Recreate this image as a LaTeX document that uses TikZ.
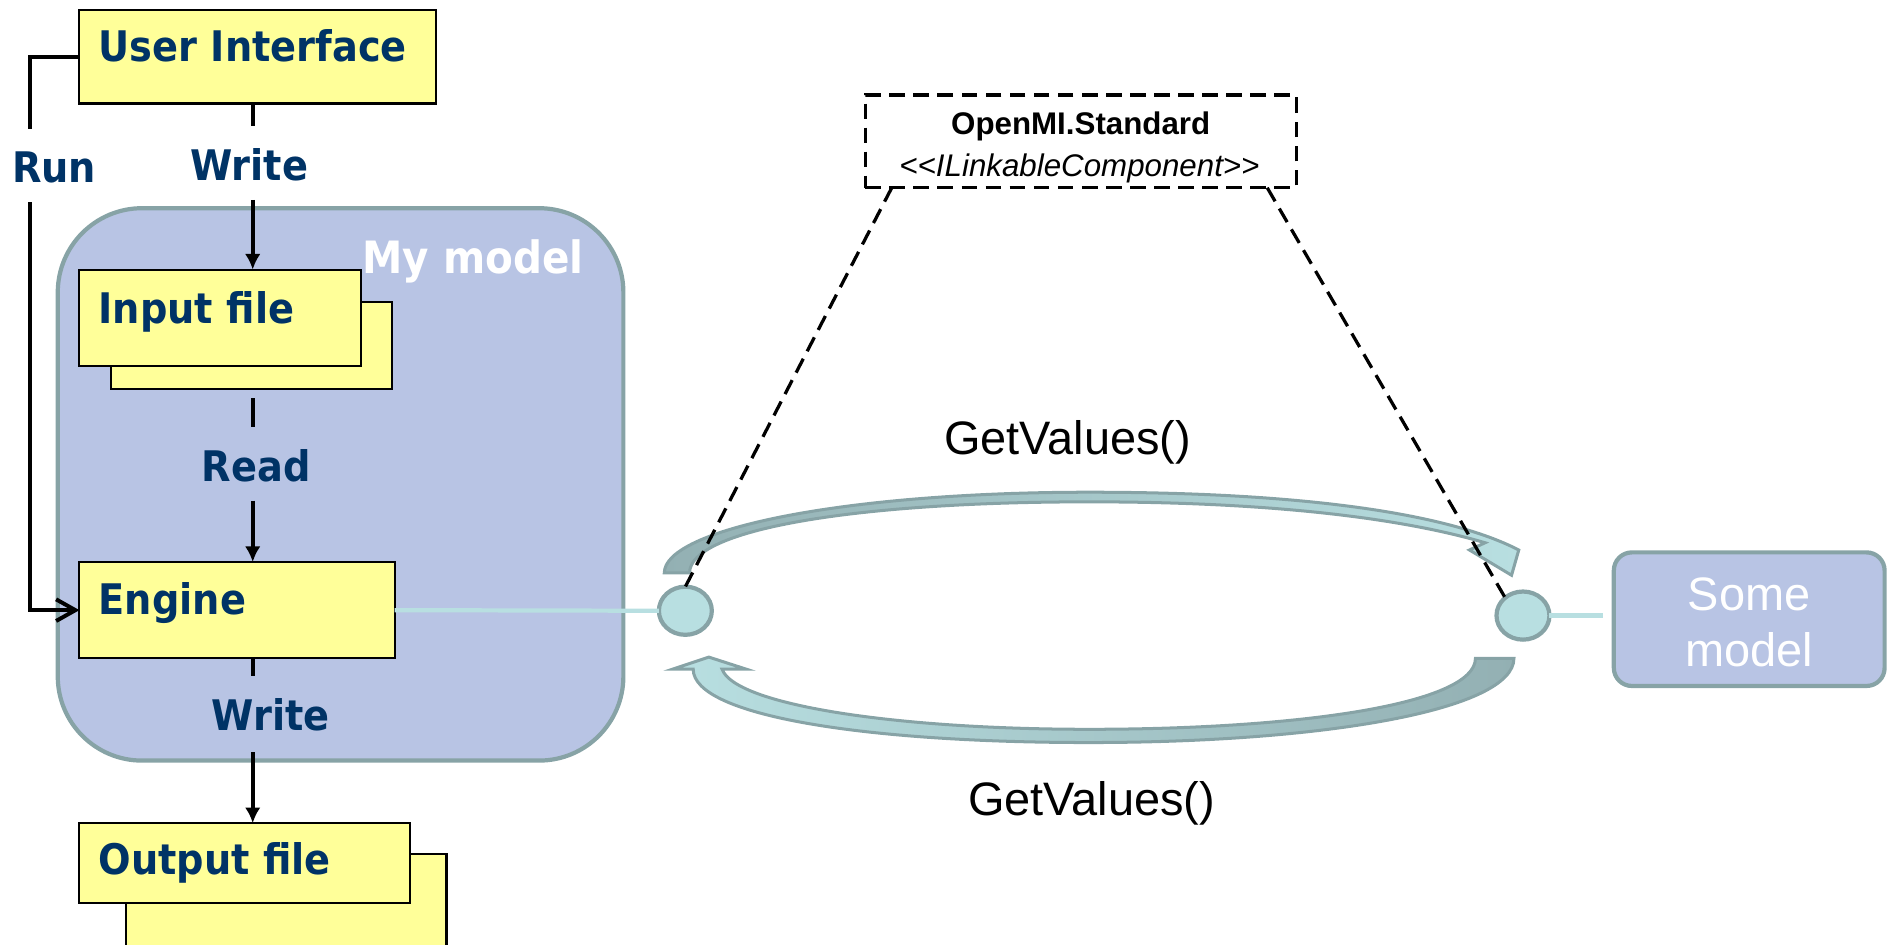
\documentclass[tikz,border=0pt]{standalone}
\usepackage{fontspec}
\usetikzlibrary{arrows.meta,shapes.geometric,calc}
\newfontfamily\tahfont{DejaVu Sans}[FakeStretch=0.91]
\newfontfamily\arialfont{Liberation Sans}
\definecolor{boxyellow}{HTML}{FFFF99}
\definecolor{navy}{HTML}{003366}
\definecolor{mblue}{HTML}{B8C4E4}
\definecolor{mborder}{HTML}{87A3A6}
\definecolor{pfill}{HTML}{B8DFE1}
\definecolor{arrdark}{HTML}{93B0B3}
\definecolor{linkteal}{HTML}{B8DFE1}
\begin{document}
\begin{tikzpicture}[x=1pt,y=-1pt,
  every node/.style={inner sep=0pt, outer sep=0pt},
  filebox/.style={draw=black, line width=1.7pt, fill=boxyellow, anchor=north west},
  boxlabel/.style={font=\tahfont\bfseries\fontsize{35}{41}\selectfont, text=navy, anchor=base west},
  flowlabel/.style={font=\tahfont\bfseries\fontsize{35}{41}\selectfont, text=navy, anchor=base},
  flow/.style={draw=black, line width=3.3pt},
  flowtip/.style={-{Latex[length=13pt,width=13pt]}},
  portlink/.style={draw=linkteal, line width=3.5pt},
  port/.style={ellipse, draw=mborder, line width=3.5pt, fill=pfill, minimum width=44pt, minimum height=40pt},
  modelbox/.style={draw=mborder, line width=3.5pt, fill=mblue, anchor=north west},
  stdline/.style={draw=black, line width=2.7pt, dash pattern=on 13pt off 7pt},
  bigarrow/.style={draw=mborder, line width=2.5pt, line join=miter},
  arialtext/.style={font=\arialfont\fontsize{39}{47}\selectfont, anchor=base},
]
\useasboundingbox (0,0) rectangle (1568,785);

% my model container
\node[modelbox, rounded corners=70pt, minimum width=470pt, minimum height=459pt] (mm) at (48,173) {};
\node[font=\tahfont\bfseries\fontsize{37}{44}\selectfont, text=white, anchor=base east] (mmt) at (485,227) {My model};

% file and component boxes
\node[filebox, minimum width=296pt, minimum height=78pt] (ui) at (66,8) {};
\node[filebox, minimum width=234pt, minimum height=72pt] (inb) at (92,251) {};
\node[filebox, minimum width=234pt, minimum height=80pt] (inf) at (66,224) {};
\node[filebox, minimum width=262pt, minimum height=80pt] (eng) at (66,467) {};
\node[filebox, minimum width=266pt, minimum height=100pt] (outb) at (105,710) {};
\node[filebox, minimum width=275pt, minimum height=66pt] (outf) at (66,684) {};

\node[boxlabel] (uit) at (82,51) {User Interface};
\node[boxlabel] (inft) at (82,269) {Input file};
\node[boxlabel] (engt) at (82,511) {Engine};
\node[boxlabel] (outt) at (82,727) {Output file};

% control and data flow
\coordinate (col) at (210,0);
\coordinate (w1a) at (210,105);
\coordinate (w1b) at (210,166);
\coordinate (rda) at (210,355);
\coordinate (rdb) at (210,416);
\coordinate (w2a) at (210,562);
\coordinate (w2b) at (210,625);
\coordinate (ra) at (25,107);
\coordinate (rb) at (25,168);

\draw[flow] (ui.south -| col) -- (w1a);
\draw[flow, flowtip] (w1b) -- (inf.north -| col);
\draw[flow] (inb.south -| col) ++(0,8) -- (rda);
\draw[flow, flowtip] (rdb) -- (eng.north -| col);
\draw[flow] (eng.south -| col) -- (w2a);
\draw[flow, flowtip] (w2b) -- (outf.north -| col);
\draw[flow] (ui.west) -| (ra);
\draw[flow, -{Straight Barb[length=16pt,width=18pt]}] (rb) |- (eng.west);

\node[flowlabel] (runt) at (45,152) {Run};
\node[flowlabel] (w1t) at (207,150) {Write};
\node[flowlabel] (rdt) at (213,400) {Read};
\node[flowlabel] (w2t) at (225,607) {Write};

% exchange ports
\node[port] (pl) at (569.5,507.5) {};
\node[port] (pr) at (1265.5,511.5) {};
\node[modelbox, rounded corners=15pt, minimum width=225pt, minimum height=111pt] (sm) at (1341,459) {};
\node[arialtext, text=white] (smt1) at (1453.5,507) {Some};
\node[arialtext, text=white] (smt2) at (1453.5,554) {model};
\coordinate (smend) at (1332,511.5);
\draw[portlink] (eng.east) -- (pl.west);
\draw[portlink] (pr.east) -- (smend);

% GetValues() calls
\path[bigarrow, left color=arrdark, middle color=arrdark, right color=pfill]
  (552,476) .. controls (552,440) and (700,409) .. (905,409)
  .. controls (1100,409) and (1210,430) .. (1262,457)
  -- (1256,478) -- (1221,457) -- (1234,451)
  .. controls (1180,435) and (1080,417) .. (905,417)
  .. controls (710,417) and (573,440) .. (573,476) -- cycle;
\path[bigarrow, left color=pfill, middle color=arrdark, right color=arrdark]
  (1226,547) -- (1258,547)
  .. controls (1258,590) and (1100,617) .. (905,617)
  .. controls (720,617) and (576,595) .. (576,556)
  -- (559,556) -- (589,546) -- (620,556) -- (600,556)
  .. controls (610,585) and (740,606) .. (905,606)
  .. controls (1080,606) and (1226,585) .. (1226,547) -- cycle;
\node[arialtext] (gv1) at (887,378) {GetValues()};
\node[arialtext] (gv2) at (907,678) {GetValues()};

% OpenMI standard interface
\node[stdline, anchor=north west, minimum width=358pt, minimum height=77pt] (std) at (719,79) {};
\node[font=\arialfont\bfseries\fontsize{26}{31}\selectfont, anchor=base] (stdt1) at (898,112) {OpenMI.Standard};
\node[font=\arialfont\itshape\fontsize{26}{31}\selectfont, anchor=base] (stdt2) at (897,147) {<\kern0pt<ILinkableComponent>\kern0pt>};
\draw[stdline] ($(std.south west)+(22,0)$) -- (pl.north);
\draw[stdline] ($(std.south east)+(-24,0)$) -- (pr.135);
\end{tikzpicture}
\end{document}
